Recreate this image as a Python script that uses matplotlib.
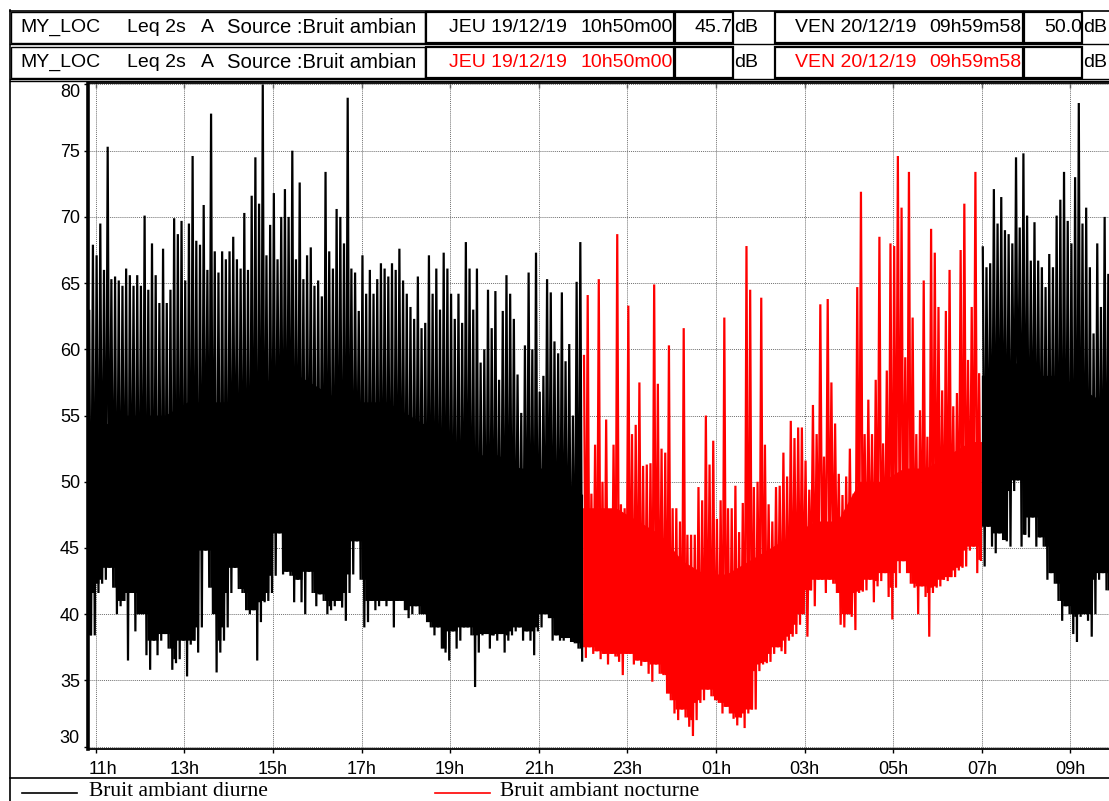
import numpy as np
import matplotlib
matplotlib.use("Agg")
import matplotlib.pyplot as plt
from matplotlib.patches import Rectangle
from matplotlib.lines import Line2D
from matplotlib.transforms import ScaledTranslation

# ---------------- data (5-minute bins, starting 10h50) ----------------
BIN_MIN = 5
# day (10h50 -> 22h00): per-bin maximum / minimum, dB(A)
day_hi = [62.9, 67.9, 67.1, 69.5, 66.0, 75.3, 65.3, 65.5, 65.2, 64.8,
          66.1, 65.6, 64.8, 65.6, 64.8, 70.1, 64.5, 68.0, 65.6, 63.5,
          67.6, 63.5, 64.5, 69.9, 68.7, 69.7, 65.2, 69.5, 74.6, 68.2,
          67.9, 70.9, 66.0, 77.8, 67.4, 65.8, 67.4, 66.8, 67.4, 68.5,
          66.8, 66.1, 70.3, 66.0, 71.6, 74.5, 71.0, 80.0, 67.1, 69.4,
          71.8, 66.8, 70.0, 72.1, 70.0, 75.0, 66.8, 72.6, 65.3, 67.1,
          67.7, 64.8, 65.2, 64.0, 73.4, 67.4, 66.1, 70.6, 70.0, 68.0,
          79.0, 66.1, 65.8, 62.9, 67.1, 64.2, 66.0, 64.2, 65.3, 66.5,
          66.1, 65.5, 66.5, 66.0, 67.6, 65.2, 64.2, 63.2, 62.3, 65.5,
          61.6, 62.0, 67.1, 64.2, 66.1, 63.0, 67.3, 66.1, 64.2, 62.3,
          64.2, 62.0, 68.1, 66.1, 63.0, 66.1, 59.0, 60.0, 64.5, 61.6,
          64.4, 57.7, 62.9, 65.6, 64.2, 62.3, 58.1, 55.2, 60.3, 65.8,
          60.0, 67.3, 56.8, 58.0, 65.3, 64.3, 60.6, 59.7, 64.3, 59.1,
          60.4, 55.0, 65.1, 68.1]
day_lo = [38.4, 38.4, 41.6, 42.3, 42.6, 43.5, 42.0, 40.0, 40.6, 41.0,
          36.5, 41.6, 38.7, 40.0, 40.0, 36.9, 35.8, 38.0, 36.9, 38.0,
          38.5, 37.4, 35.8, 36.3, 36.6, 38.0, 35.3, 37.7, 38.0, 37.1,
          39.0, 44.8, 42.0, 40.0, 35.6, 37.1, 38.0, 39.0, 41.6, 43.5,
          41.9, 41.6, 40.3, 40.0, 40.3, 36.5, 39.4, 40.9, 41.0, 41.6,
          42.9, 46.1, 43.0, 43.2, 42.9, 40.9, 42.6, 40.9, 40.0, 43.2,
          41.6, 40.6, 41.5, 41.0, 40.0, 40.3, 40.6, 41.0, 40.5, 39.5,
          41.6, 43.0, 45.5, 42.6, 39.0, 39.4, 41.0, 40.3, 40.6, 41.0,
          40.6, 41.0, 39.0, 41.0, 41.0, 40.3, 39.7, 40.0, 40.6, 40.0,
          40.0, 39.4, 39.0, 38.4, 39.0, 37.4, 37.1, 36.5, 38.7, 37.4,
          38.0, 39.0, 39.0, 38.4, 34.5, 37.1, 38.4, 38.5, 37.4, 38.4,
          38.0, 38.5, 37.1, 38.0, 38.4, 38.7, 39.0, 38.0, 38.7, 38.0,
          36.9, 38.7, 39.0, 40.0, 39.7, 38.0, 38.4, 38.0, 38.0, 38.2,
          37.9, 37.8, 37.4, 36.5]
# night (22h00 -> 07h00)
night_hi = [59.5, 64.1, 49.1, 52.8, 65.3, 50.0, 54.7, 47.6, 52.8, 68.7,
            48.3, 48.0, 63.3, 53.6, 54.3, 57.5, 51.2, 51.3, 51.4, 64.9,
            57.4, 52.5, 52.2, 60.3, 48.0, 48.0, 47.0, 61.6, 46.0, 46.0,
            46.0, 49.6, 48.6, 55.0, 51.3, 53.1, 47.2, 48.6, 62.4, 48.0,
            48.0, 49.7, 46.2, 48.4, 67.8, 64.5, 49.6, 50.0, 63.9, 52.8,
            48.3, 47.0, 49.6, 49.7, 52.2, 50.4, 54.6, 53.3, 54.1, 54.1,
            51.6, 49.4, 55.8, 53.6, 63.4, 51.9, 63.8, 57.5, 54.4, 50.6,
            49.0, 50.4, 52.5, 49.1, 64.7, 71.9, 53.6, 56.2, 53.6, 57.7,
            68.5, 52.9, 58.4, 68.0, 67.8, 74.6, 70.7, 59.4, 73.4, 62.4,
            53.6, 55.4, 65.2, 53.4, 69.1, 67.3, 63.2, 56.9, 62.9, 66.0,
            55.7, 56.7, 67.5, 71.0, 59.2, 63.2, 73.4, 58.2]
night_lo = [36.7, 37.5, 37.0, 37.2, 36.6, 37.0, 36.2, 37.0, 36.8, 36.4,
            35.4, 37.0, 37.0, 36.2, 36.5, 36.1, 36.4, 35.5, 34.9, 36.2,
            35.5, 35.4, 34.0, 33.5, 32.5, 32.0, 32.8, 32.2, 31.5, 30.8,
            32.0, 33.3, 33.5, 34.3, 33.8, 33.5, 33.3, 32.5, 33.0, 32.5,
            32.1, 31.6, 32.2, 31.4, 32.5, 32.8, 32.8, 35.7, 36.2, 36.3,
            36.4, 37.0, 37.5, 37.2, 37.0, 38.0, 38.3, 38.5, 39.2, 40.0,
            38.3, 41.8, 40.6, 42.6, 42.6, 41.6, 42.6, 42.3, 41.6, 39.2,
            39.0, 40.0, 39.8, 38.8, 41.6, 41.7, 41.8, 42.6, 40.9, 42.1,
            42.5, 43.1, 41.3, 39.6, 42.0, 43.1, 44.0, 43.1, 42.3, 42.0,
            40.0, 42.1, 41.3, 38.3, 41.6, 42.0, 42.1, 42.6, 42.5, 42.8,
            42.8, 43.3, 43.5, 43.6, 44.8, 45.1, 43.1, 44.1]
# morning (07h00 -> 10h00)
morn_hi = [67.7, 66.2, 66.5, 72.1, 69.5, 71.5, 69.0, 68.7, 68.0, 74.5,
           69.2, 74.8, 70.1, 66.7, 69.6, 66.7, 66.2, 64.7, 67.2, 66.2,
           70.1, 71.3, 73.4, 69.7, 68.0, 73.0, 78.6, 69.5, 70.7, 66.2,
           61.2, 68.0, 63.2, 70.0, 65.7, 64.0]
morn_lo = [43.6, 46.6, 45.1, 44.6, 46.1, 45.6, 45.5, 45.1, 49.3, 50.1,
           45.1, 46.0, 45.8, 47.3, 45.1, 45.8, 45.1, 42.6, 43.1, 42.3,
           41.0, 39.5, 40.6, 40.0, 38.5, 37.9, 39.8, 40.0, 39.5, 38.3,
           40.0, 42.6, 43.1, 41.8, 39.2, 40.0]
# upper edge of the dense core of the signal (30-minute blocks), dB(A)
day_core_hi = [54, 55, 55, 55, 56, 56, 56, 57, 58, 58, 57, 56, 56, 56, 55,
               54, 53, 52, 52, 51, 51, 50, 49]
night_core_hi = [48, 48, 47, 46, 44, 43, 43, 44, 45, 46, 47, 47, 50, 50, 51,
                 51, 52, 53]
morn_core_hi = [58, 59, 58, 58, 57, 56]

tick_minutes = [10, 130, 250, 370, 490, 610, 730, 850, 970, 1090, 1210, 1330]
tick_labels = ["11h", "13h", "15h", "17h", "19h", "21h", "23h", "01h",
               "03h", "05h", "07h", "09h"]
y_ticks = [30, 35, 40, 45, 50, 55, 60, 65, 70, 75, 80]

# ---------------- figure ----------------
W, H = 1109, 801
plt.rcParams["font.family"] = ["Liberation Sans", "DejaVu Sans"]
fig = plt.figure(figsize=(W / 100, H / 100), dpi=100)
fig.patch.set_facecolor("white")


def fx(x):
    return x / W


def fy(y):
    return 1 - y / H


RED = "#ff0000"

x0, x1, ytop, ybot = 88.3, 1114.8, 82.5, 748.6
ax = fig.add_axes([fx(x0), fy(ybot), (x1 - x0) / W, (ybot - ytop) / H])
ax.set_xlim(0, 1390)
ax.set_ylim(29.85, 80.15)


def zig(start_bin, hi, lo):
    t, v = [], []
    for i, (h, l) in enumerate(zip(hi, lo)):
        t0 = (start_bin + i) * BIN_MIN
        t += [t0 + 1.25, t0 + 3.75]
        v += [h, l]
    return t, v


def core(start_bin, lo, chi, color):
    """Solid core: bottom follows the neighbouring bin minima, top the
    read core edge."""
    n = len(lo)
    s = start_bin * BIN_MIN
    end = s + n * BIN_MIN
    lo = np.asarray(lo)
    padded = np.r_[lo[0], lo, lo[-1]]
    bottom = np.maximum(np.maximum(padded[:-2], padded[1:-1]), padded[2:])
    bx, by = [], []
    for i in range(n):
        t0 = s + i * BIN_MIN
        bx += [t0, t0 + BIN_MIN]
        by += [bottom[i], bottom[i]]
    centers = np.minimum(s + 15 + 30 * np.arange(len(chi)), end)
    tx = list(np.r_[s, centers, end][::-1])
    ty = list(np.r_[chi[0], chi, chi[-1]][::-1])
    ax.fill(bx + tx, by + ty, color=color, lw=0, zorder=2)


n_day, n_night = len(day_hi), len(night_hi)
segments = [(0, day_hi, day_lo, day_core_hi, "black"),
            (n_day, night_hi, night_lo, night_core_hi, RED),
            (n_day + n_night, morn_hi, morn_lo, morn_core_hi, "black")]
LW = 1.6
for sb, hi, lo, chi, col in segments:
    core(sb, lo, chi, col)
    t, v = zig(sb, hi, lo)
    ax.plot(t, v, color=col, lw=LW, zorder=3, solid_joinstyle="miter")

ax.set_xticks(tick_minutes)
ax.set_xticklabels(tick_labels)
ax.set_yticks(y_ticks)
ax.set_yticklabels([str(y) for y in y_ticks])
ax.tick_params(axis="both", labelsize=13, direction="out", length=3,
               width=1, colors="black")
ax.tick_params(axis="x", pad=6)
ax.tick_params(axis="y", pad=3)
ylabels = ax.get_yticklabels()
ylabels[-1].set_verticalalignment("top")
ylabels[0].set_verticalalignment("bottom")
xl0 = ax.get_xticklabels()[0]
xl0.set_horizontalalignment("left")
xl0.set_transform(xl0.get_transform() +
                  ScaledTranslation(-7 / 100, 0, fig.dpi_scale_trans))
ax.grid(True, color="#707070", linestyle=(0, (1, 1)), linewidth=0.7, zorder=1)
ax.set_axisbelow(True)
ax.spines["left"].set_linewidth(2.6)
ax.spines["bottom"].set_linewidth(1.3)
ax.spines["top"].set_linewidth(1.3)
ax.spines["right"].set_visible(False)

# small inward ticks along the top edge
top = ax.secondary_xaxis("top")
top.set_xticks(tick_minutes)
top.set_xticklabels([])
top.tick_params(direction="in", length=4, width=1, colors="#555555")
top.spines["top"].set_visible(False)


# ---------------- header ----------------
def rect(xa, ya, xb, yb, lw=1.0, color="black"):
    fig.patches.append(Rectangle((fx(xa), fy(yb)), (xb - xa) / W,
                                 (yb - ya) / H, transform=fig.transFigure,
                                 fill=False, edgecolor=color, lw=lw))


def hline(xa, xb, y, lw=1.0, color="black"):
    fig.lines.append(Line2D([fx(xa), fx(xb)], [fy(y), fy(y)],
                            transform=fig.transFigure, color=color, lw=lw))


def vline(x, ya, yb, lw=1.0, color="black"):
    fig.lines.append(Line2D([fx(x), fx(x)], [fy(ya), fy(yb)],
                            transform=fig.transFigure, color=color, lw=lw))


def txt(x, y, s, color="black", ha="left", size=14, family=None, **kw):
    kwargs = dict(color=color, ha=ha, va="center", fontsize=size)
    if family:
        kwargs["family"] = family
    kwargs.update(kw)
    return fig.text(fx(x), fy(y), s, **kwargs)


vline(10, 10, 801, lw=1.2)
hline(10, 1109, 10.5, lw=1.2)

rows = [(12, 42.5), (47, 77.5)]
for r, (ya, yb) in enumerate(rows):
    hline(10, 1109, yb + 1.5, lw=1.0)
    rect(11, ya, 425, yb, lw=1.0)
    rect(426, ya, 674, yb, lw=1.6)
    rect(675, ya, 733, yb, lw=1.6)
    rect(775, ya, 1023, yb, lw=1.6)
    rect(1024, ya, 1082, yb, lw=1.6)
    yc = (ya + yb) / 2 + 0.5
    col = "black" if r == 0 else RED
    txt(20, yc, "MY_LOC")
    txt(127, yc, "Leq 2s")
    txt(201, yc, "A")
    txt(227, yc, "Source :Bruit ambian", size=14.6)
    txt(449, yc, "JEU 19/12/19", color=col)
    txt(673, yc, "10h50m00", color=col, ha="right")
    txt(795, yc, "VEN 20/12/19", color=col)
    txt(1021, yc, "09h59m58", color=col, ha="right")
    txt(734, yc, "dB")
    txt(1083, yc, "dB")
    if r == 0:
        txt(733, yc, "45.7", ha="right")
        txt(1082, yc, "50.0", ha="right")
hline(10, 1109, 81.0, lw=1.0)

# ---------------- legend ----------------
hline(10, 1109, 777.5, lw=1.2)
fig.lines.append(Line2D([fx(22), fx(77)], [fy(793), fy(793)],
                        transform=fig.transFigure, color="black", lw=1.2))
fig.lines.append(Line2D([fx(435), fx(490)], [fy(793), fy(793)],
                        transform=fig.transFigure, color=RED, lw=1.2))
serif = ["Liberation Serif", "DejaVu Serif"]
txt(89, 791, "Bruit ambiant diurne", size=15.5, family=serif)
txt(500, 791, "Bruit ambiant nocturne", size=15.5, family=serif)

fig.savefig("out.png", dpi=100, facecolor="white")
